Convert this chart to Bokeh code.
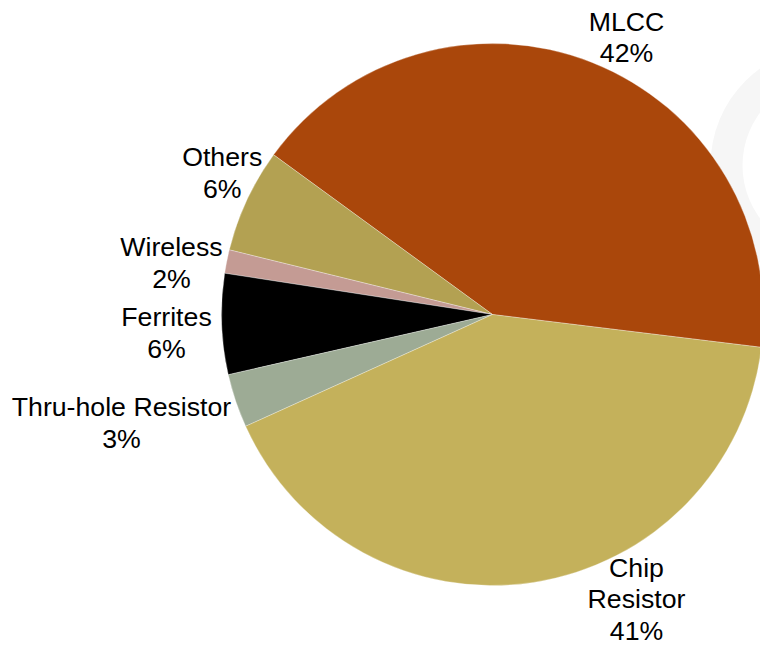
import numpy as np
from bokeh.plotting import figure
from bokeh.models import Range1d, ColumnDataSource
from bokeh.embed import file_html
from bokeh.resources import INLINE
from bokeh.core.properties import value

# ---- data ----
categories = ["MLCC", "Others", "Wireless", "Ferrites", "Thru-hole Resistor", "Chip Resistor"]
shares = [41.9, 6.2, 1.4, 6.0, 3.2, 41.3]
pct_labels = ["42%", "6%", "2%", "6%", "3%", "41%"]
label_names = ["MLCC", "Others", "Wireless", "Ferrites", "Thru-hole Resistor", "Chip\nResistor"]

# ---- styles / layout ----
colors = ["#AA470B", "#B3A152", "#C49B94", "#000000", "#9DAB95", "#C4B15B"]
W, H = 760, 645
CX, CY, R = 492, 314, 271          # pie centre / radius in picture pixels
START_DEG = -6.96                   # angle of first slice edge
FONT = "Liberation Sans"
FSIZE = "26.7px"
LINE_STEP = 31.3
# label anchors: (centre x, first text-line y) in picture pixels
label_anchor = [(626, 21.5), (221.7, 156.7), (171, 246.7), (166, 316.7), (121, 406.7), (636, 567.5)]

p = figure(width=W, height=H,
           x_range=Range1d(0, W), y_range=Range1d(-H, 0),
           output_backend="svg", toolbar_location=None,
           x_axis_location=None, y_axis_location=None,
           min_border=0, min_border_left=0, min_border_right=0,
           min_border_top=0, min_border_bottom=0)
p.grid.visible = False
p.outline_line_color = None
p.background_fill_color = "white"
p.border_fill_color = "white"

# faint decorative ring behind the pie
p.annulus(x=830, y=-165, inner_radius=88, outer_radius=120,
          fill_color="#F6F6F6", line_color=None)

# pie slices
vals = np.array(shares, dtype=float)
frac = vals / vals.sum()
ends_cum = np.cumsum(frac) * 2 * np.pi
starts_cum = np.concatenate([[0.0], ends_cum[:-1]])
start0 = np.deg2rad(START_DEG)
src = ColumnDataSource(dict(
    cat=categories,
    start=(starts_cum + start0).tolist(),
    end=(ends_cum + start0).tolist(),
    color=colors,
))
p.wedge(x=CX, y=-CY, radius=R, start_angle="start", end_angle="end",
        fill_color="color", line_color="white", line_width=0.5, line_alpha=0.6,
        source=src)

# labels
tx, ty, tt = [], [], []
for name, pct, (ax, ay) in zip(label_names, pct_labels, label_anchor):
    lines = name.split("\n") + [pct]
    for k, ln in enumerate(lines):
        tx.append(ax)
        ty.append(-(ay + k * LINE_STEP))
        tt.append(ln)
p.text(x=tx, y=ty, text=tt, text_align="center", text_baseline="alphabetic",
       text_font=value(FONT), text_font_size=FSIZE, text_color="#000000")

open("out.html", "w").write(file_html(p, INLINE))
